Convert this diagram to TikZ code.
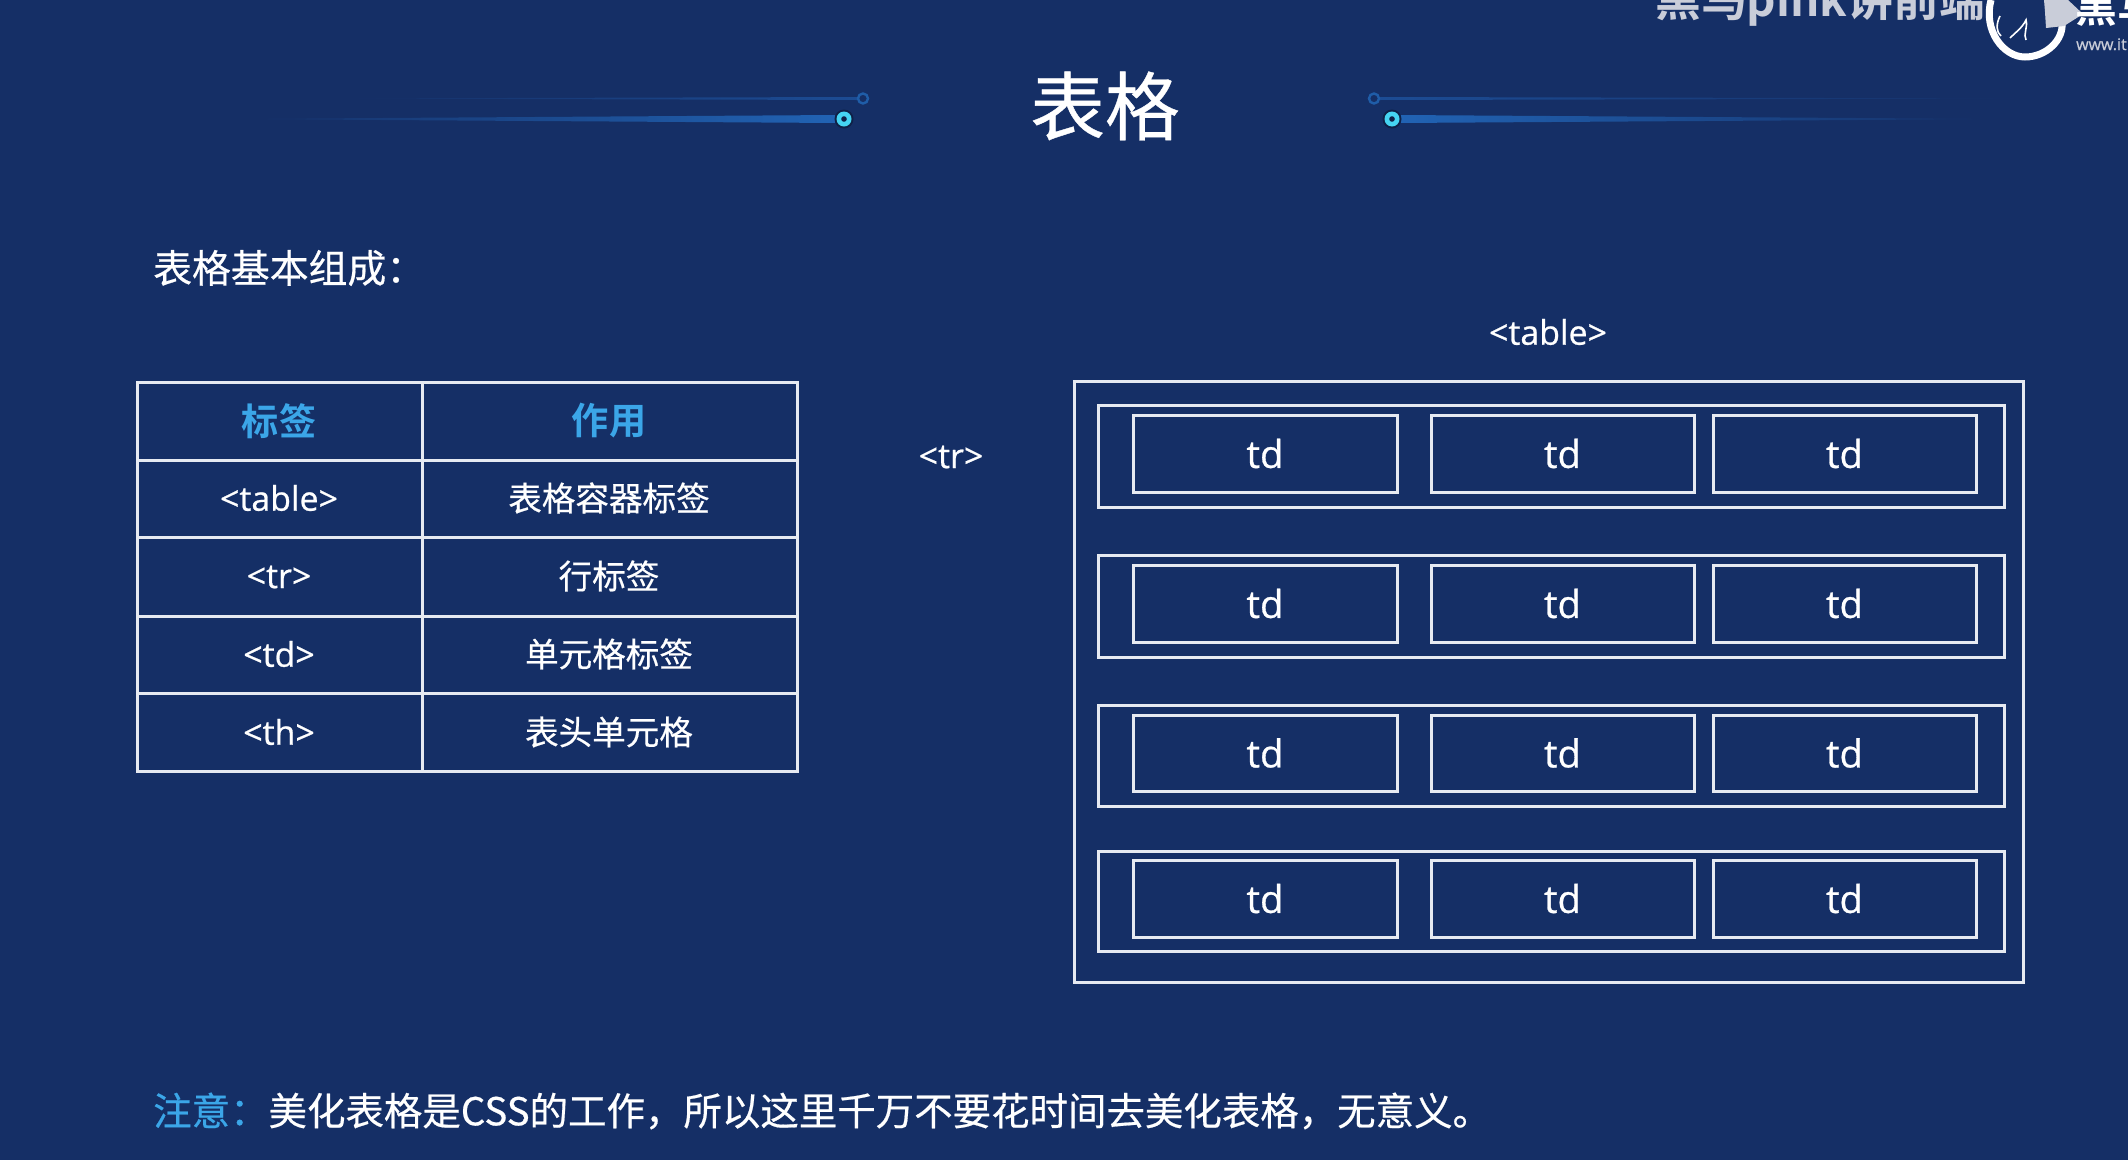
\documentclass[tikz,border=0pt]{standalone}
\usepackage{fontspec}
\setmainfont{Open Sans}[FakeBold=0.7]
\newfontfamily\cjk{Noto Sans CJK SC}[FakeBold=0.5]
\newfontfamily\cjkb{Noto Sans CJK SC Bold}
\definecolor{bgc}{HTML}{152F66}
\definecolor{linec}{HTML}{E6EAF2}
\definecolor{headc}{HTML}{3BA6E8}
\definecolor{wmc}{HTML}{C9CDD9}
\definecolor{glowa}{HTML}{2163B4}
\definecolor{glowb}{HTML}{1C4C94}
\definecolor{cyanc}{HTML}{45D4F2}
\definecolor{dimc}{HTML}{1F5DA8}
\tikzset{
  x=1bp,y=-1bp,
  box/.style={draw=linec,line width=3bp},
  cell/.style={text=white,font=\fontsize{34}{40}\selectfont,anchor=center,inner sep=0pt},
  cellc/.style={text=white,font=\fontsize{33.7}{40}\selectfont\cjk,anchor=center,inner sep=0pt},
  headcell/.style={text=headc,font=\fontsize{37.3}{44}\selectfont\cjkb,anchor=center,inner sep=0pt},
  tdtext/.style={text=white,font=\fontsize{38.5}{44}\selectfont,anchor=center,inner sep=0pt},
  wide/.style={text=white,anchor=base west,inner sep=0pt,font=\fontsize{38.6}{44}\selectfont\cjk},
}
\newcommand{\tdrow}[5]{%
  % #1 name, #2 row top, #3 row bottom, #4 td top, #5 td bottom
  \draw[box] (1098,#2) rectangle (2004,#3);
  \foreach \xa/\xb/\k in {1133/1397/a,1431/1694/b,1713/1976/c}{
    \draw[box] (\xa,#4) rectangle (\xb,#5);
    \node[tdtext] (#1\k) at ({(\xa+\xb)/2},{(#4+#5)/2}) {td};
  }%
}
\begin{document}
\begin{tikzpicture}
\useasboundingbox (0,0) rectangle (2128,1159);
\fill[bgc] (-3,-3) rectangle (2131,1164);
\begin{scope}
\clip (0,0) rectangle (2128,1161);
% watermark
\node[anchor=base west,inner sep=0pt,text=wmc,font=\fontsize{46}{50}\selectfont\cjkb] (wm) at (1655,16.5) {黑马pink讲前端};
\draw[white,line width=7bp] (1991,0) .. controls (1983,30) and (2003,57) .. (2025,57) .. controls (2046,57) and (2064,40) .. (2062,22);
\fill[wmc] (2044,0) -- (2068,0) -- (2083,14) -- (2064,26) -- (2046,28) -- (2045,12) -- cycle;
\draw[white,line width=1.6bp] (2000,16) .. controls (1996,24) and (1996,32) .. (2001,36);
\draw[white,line width=1.6bp] (2010,38) .. controls (2016,32) and (2022,28) .. (2026,20) .. controls (2028,28) and (2023,34) .. (2026,40);
\node[anchor=base west,inner sep=0pt,text=white,font=\fontsize{42}{48}\selectfont\cjkb] (wm2) at (2075,22) {黑马};
\node[anchor=base west,inner sep=0pt,text=wmc,font=\fontsize{16}{20}\selectfont] (wm3) at (2076,50) {www.itheima};
\end{scope}
% decorative lines
\shade[left color=bgc,right color=glowb] (330,98.5) -- (857,97) -- (857,100) -- cycle;
\shade[left color=bgc,right color=glowa] (230,119) -- (838,115) -- (838,123) -- cycle;
\draw[dimc,line width=2.4bp] (863,98.5) circle[radius=5];
\fill[bgc!70!black] (844,119) circle[radius=9.5];
\fill[cyanc] (844,119) circle[radius=7.5];
\fill[bgc!70!black] (844,119) circle[radius=2.8];
\shade[left color=glowb,right color=bgc] (1379,97) -- (1379,100) -- (2050,98.5) -- cycle;
\shade[left color=glowa,right color=bgc] (1398,115) -- (1398,123) -- (2010,119) -- cycle;
\draw[dimc,line width=2.4bp] (1374,98.5) circle[radius=5];
\fill[bgc!70!black] (1392,119) circle[radius=9.5];
\fill[cyanc] (1392,119) circle[radius=7.5];
\fill[bgc!70!black] (1392,119) circle[radius=2.8];
% title
\node[text=white,inner sep=0pt,font=\fontsize{75}{80}\selectfont\cjk] (title) at (1105,106) {表格};
\node[wide,anchor=west,font=\fontsize{39}{44}\selectfont\cjk] (sub) at (153,268) {表格基本组成：};
% left table
\draw[box] (137,382) rectangle (797,771);
\draw[box] (137,460) -- (797,460);
\draw[box] (137,537) -- (797,537);
\draw[box] (137,616) -- (797,616);
\draw[box] (137,693) -- (797,693);
\draw[box] (422,382) -- (422,771);
\node[headcell] (h1) at (279,421) {标签};
\node[headcell] (h2) at (609,421) {作用};
\node[cell] (a1) at (279,498) {<table>};
\node[cellc] (b1) at (609,498) {表格容器标签};
\node[cell] (a2) at (279,577) {<tr>};
\node[cellc] (b2) at (609,576) {行标签};
\node[cell] (a3) at (279,654) {<td>};
\node[cellc] (b3) at (609,654) {单元格标签};
\node[cell] (a4) at (279,732) {<th>};
\node[cellc] (b4) at (609,732) {表头单元格};
% right diagram
\node[cell] (tablelbl) at (1548,332) {<table>};
\node[cell] (trlbl) at (951,457) {<tr>};
\draw[box] (1074,381.5) rectangle (2023,982);
\tdrow{ra}{405}{507}{415}{492}
\tdrow{rb}{555}{657}{565}{642}
\tdrow{rc}{705}{806}{715}{791}
\tdrow{rd}{851}{951}{860}{937}
% footer
\node[wide,anchor=west] (note) at (153,1111) {{\color{headc}注意：}美化表格是CSS的工作，所以这里千万不要花时间去美化表格，无意义。};
\end{tikzpicture}
\end{document}
